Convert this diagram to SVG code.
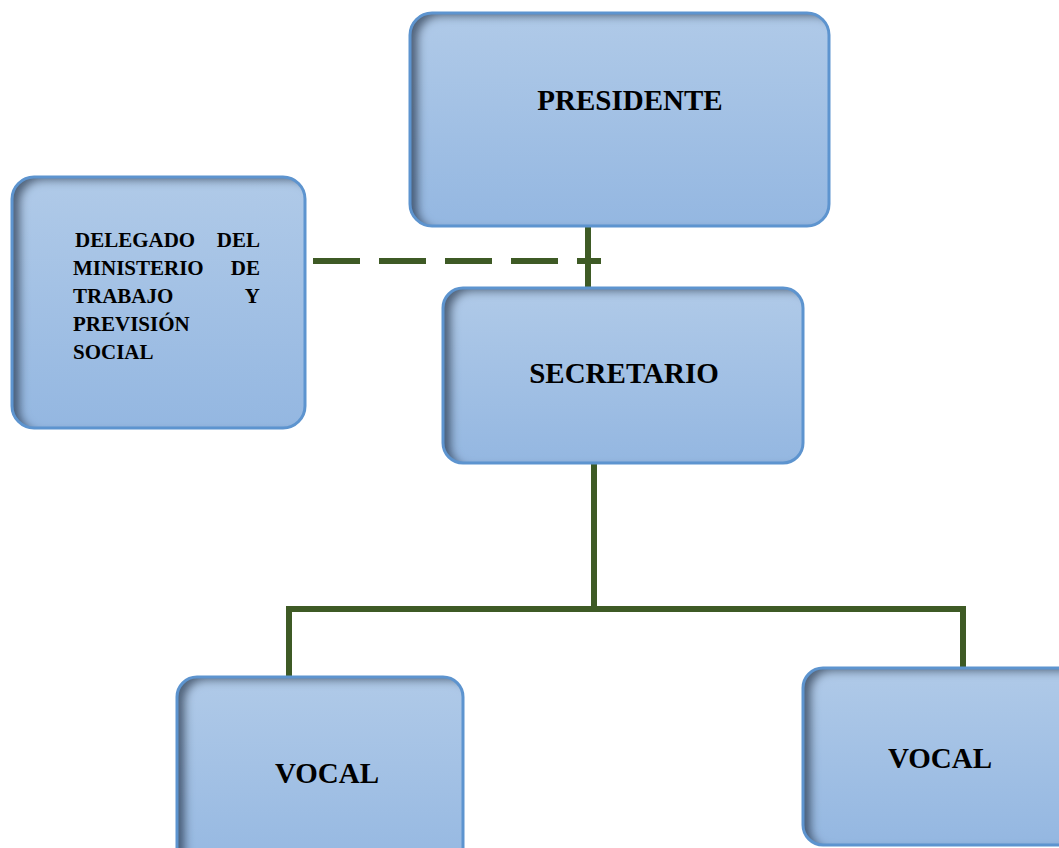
<svg xmlns="http://www.w3.org/2000/svg" width="1059" height="848" viewBox="0 0 1059 848">
<defs>
<linearGradient id="fillG" x1="0" y1="0" x2="0" y2="1">
<stop offset="0" stop-color="#b0cae8"/>
<stop offset="1" stop-color="#94b7e1"/>
</linearGradient>
<filter id="inset" x="-5%" y="-5%" width="110%" height="110%">
<feOffset in="SourceAlpha" dx="9" dy="4" result="o"/>
<feGaussianBlur in="o" stdDeviation="4" result="b"/>
<feComposite in="SourceAlpha" in2="b" operator="out" result="inv"/>
<feFlood flood-color="#2a3e58" flood-opacity="0.85"/>
<feComposite in2="inv" operator="in" result="sh"/>
<feMerge><feMergeNode in="SourceGraphic"/><feMergeNode in="sh"/></feMerge>
</filter>
</defs>
<style>
.box{fill:url(#fillG);filter:url(#inset)}
.edge{fill:none;stroke:#5d94cf;stroke-width:3}
.lbl{font-family:"Liberation Serif","Times New Roman",serif;font-weight:bold;font-size:29px;fill:#000}
.small{font-family:"Liberation Serif","Times New Roman",serif;font-weight:bold;font-size:21px;fill:#000}
.con{fill:none;stroke:#3e5a25;stroke-width:6}
</style>
<rect width="1059" height="848" fill="#fff"/>
<g id="connectors">
<line class="con" x1="588" y1="226" x2="588" y2="289"/>
<line class="con" x1="313" y1="261" x2="601" y2="261" stroke-dasharray="47 19" stroke-width="7"/>
<line class="con" x1="594" y1="463" x2="594" y2="609"/>
<polyline class="con" points="289,677 289,609 963,609 963,668"/>
</g>
<g id="presidente">
<rect class="box" x="410" y="13" width="419" height="213" rx="22"/>
<rect class="edge" x="410" y="13" width="419" height="213" rx="22"/>
<text class="lbl" x="630" y="110" text-anchor="middle">PRESIDENTE</text>
</g>
<g id="delegado">
<rect class="box" x="12" y="177" width="293" height="251" rx="22"/>
<rect class="edge" x="12" y="177" width="293" height="251" rx="22"/>
<text class="small" x="75" y="247">DELEGADO</text>
<text class="small" x="260" y="247" text-anchor="end">DEL</text>
<text class="small" x="73" y="275">MINISTERIO</text>
<text class="small" x="260" y="275" text-anchor="end">DE</text>
<text class="small" x="73" y="303">TRABAJO</text>
<text class="small" x="260" y="303" text-anchor="end">Y</text>
<text class="small" x="73" y="331">PREVISIÓN</text>
<text class="small" x="73" y="359">SOCIAL</text>
</g>
<g id="secretario">
<rect class="box" x="443" y="288" width="360" height="175" rx="20"/>
<rect class="edge" x="443" y="288" width="360" height="175" rx="20"/>
<text class="lbl" x="624" y="383" text-anchor="middle">SECRETARIO</text>
</g>
<g id="vocal1">
<rect class="box" x="177" y="677" width="286" height="200" rx="20"/>
<rect class="edge" x="177" y="677" width="286" height="200" rx="20"/>
<text class="lbl" x="327" y="783" text-anchor="middle">VOCAL</text>
</g>
<g id="vocal2">
<rect class="box" x="803" y="668" width="290" height="177" rx="20"/>
<rect class="edge" x="803" y="668" width="290" height="177" rx="20"/>
<text class="lbl" x="940" y="768" text-anchor="middle">VOCAL</text>
</g>
</svg>
